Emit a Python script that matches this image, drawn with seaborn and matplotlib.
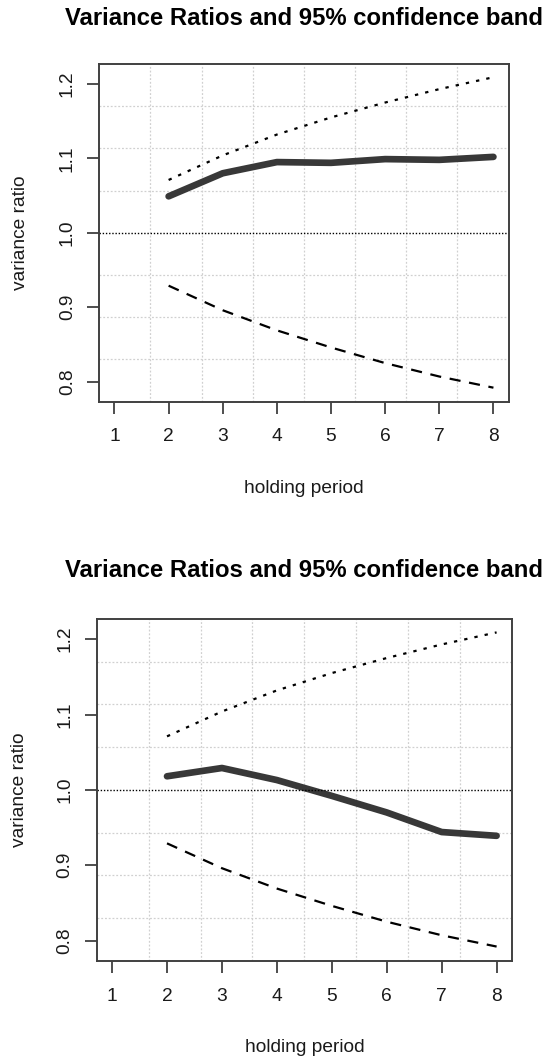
import numpy as np
import pandas as pd
import matplotlib
matplotlib.use("Agg")
import matplotlib.pyplot as plt
import seaborn as sns

sns.set_style("white")
plt.rcParams['font.family'] = ['Liberation Sans', 'DejaVu Sans']

# values
holding = [2, 3, 4, 5, 6, 7, 8]
vr_first = [1.049, 1.080, 1.095, 1.094, 1.099, 1.098, 1.102]
vr_second = [1.018, 1.029, 1.013, 0.992, 0.970, 0.944, 0.939]
upper_band = [1.071, 1.104, 1.132, 1.155, 1.175, 1.193, 1.209]
lower_band = [0.929, 0.896, 0.869, 0.846, 0.825, 0.807, 0.792]
x_ticks = [1, 2, 3, 4, 5, 6, 7, 8]
y_ticks = [0.8, 0.9, 1.0, 1.1, 1.2]
title = 'Variance Ratios and 95% confidence band'

W, H = 546, 1059
panels = [
    (vr_first, [0.1819, 0.6207, 0.7496, 0.3189], 28),
    (vr_second, [0.1771, 0.0928, 0.7606, 0.3227], 30),
]

fig = plt.figure(figsize=(W / 100, H / 100), dpi=100)
for vr, rect, tpad in panels:
    ax = fig.add_axes(rect)
    df = pd.DataFrame({'q': holding, 'vr': vr, 'up': upper_band, 'lo': lower_band})
    sns.lineplot(data=df, x='q', y='up', ax=ax, color='black', lw=1.6,
                 linestyle=(0, (1.5, 3.2)))
    sns.lineplot(data=df, x='q', y='lo', ax=ax, color='black', lw=1.6,
                 linestyle=(0, (5, 3.9)))
    sns.lineplot(data=df, x='q', y='vr', ax=ax, color='#383838', lw=4.8,
                 solid_capstyle='round')
    ax.axhline(1.0, color='black', lw=1.0, linestyle=(0, (1, 1.3)))

    xlim = (0.72, 8.28)
    ylim = (0.7732, 1.2268)
    ax.set_xlim(xlim)
    ax.set_ylim(ylim)
    ax.set_xticks(x_ticks)
    ax.set_xticklabels([str(v) for v in x_ticks])
    ax.set_yticks(y_ticks)
    ax.set_yticklabels([f'{v:.1f}' for v in y_ticks])
    # R-style grid(): equal cells across the plot region
    ax.set_xticks(np.linspace(xlim[0], xlim[1], 9)[1:-1], minor=True)
    ax.set_yticks(np.linspace(ylim[0], ylim[1], 9)[1:-1], minor=True)
    ax.grid(False, which='major')
    ax.grid(True, which='minor', color='#d0d0d0', lw=0.9, linestyle=(0, (1.5, 1.5)))
    ax.set_axisbelow(True)

    ax.tick_params(which='major', length=8.3, width=1.3, color='#404040',
                   labelsize=13.8, labelcolor='#1a1a1a', direction='out')
    ax.tick_params(which='minor', length=0)
    ax.tick_params(axis='x', pad=11, bottom=True)
    ax.tick_params(axis='y', pad=8.6, left=True, labelrotation=90)
    plt.setp(ax.get_yticklabels(), va='center')
    for s in ax.spines.values():
        s.set_visible(True)
        s.set_color('#404040')
        s.set_linewidth(1.4)

    w_px = rect[2] * W
    h_px = rect[3] * H
    ax.set_title(title, fontsize=17.2, fontweight='bold', color='black', pad=tpad)
    ax.set_xlabel('holding period', fontsize=13.8, color='#1a1a1a')
    ax.xaxis.set_label_coords(0.5, -91 / h_px)
    ax.xaxis.label.set_va('baseline')
    ax.set_ylabel('variance ratio', fontsize=13.8, color='#1a1a1a')
    ax.yaxis.set_label_coords(-(rect[0] * W - 20) / w_px, 0.5)
    ax.yaxis.label.set_va('center')

plt.savefig('out.png', dpi=100)
plt.close()
